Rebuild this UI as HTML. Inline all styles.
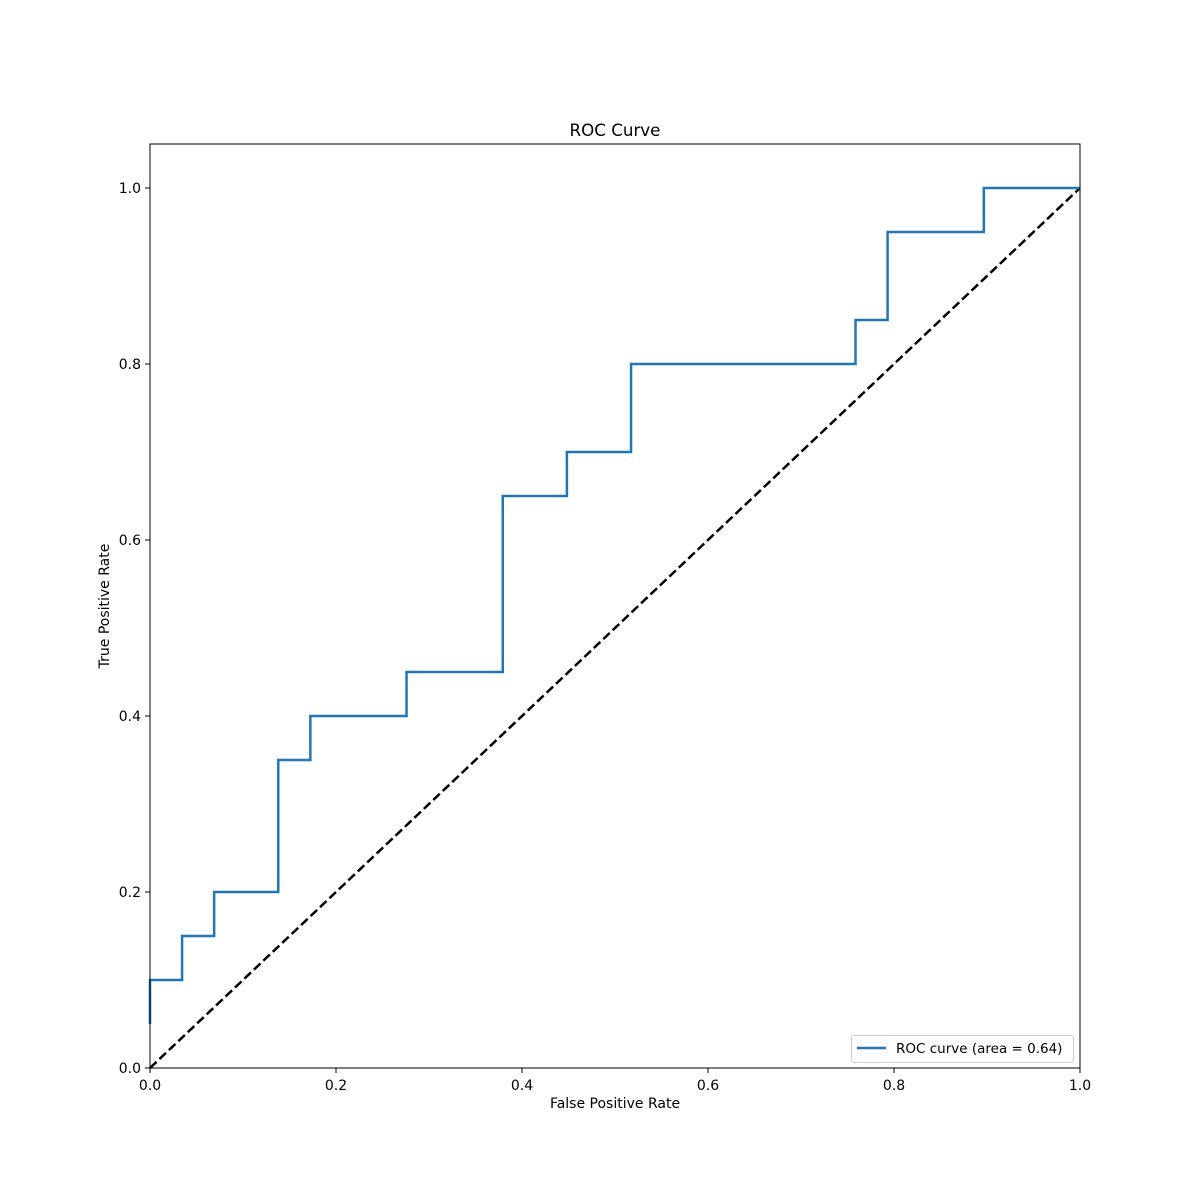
<!DOCTYPE html>
<html><head><meta charset="utf-8"><style>
html,body{margin:0;padding:0;background:#fff;}
svg{display:block;font-family:"DejaVu Sans","Liberation Sans",sans-serif;}
</style></head><body>
<svg id="chart" width="1200" height="1200" viewBox="0 0 1200 1200">
<rect x="0" y="0" width="1200" height="1200" fill="#fff"/>
<g id="plot"></g>
</svg>
<script>
const fpr = [0,0,0,1/29,1/29,2/29,2/29,4/29,4/29,5/29,5/29,8/29,8/29,11/29,11/29,13/29,13/29,15/29,15/29,22/29,22/29,23/29,23/29,26/29,26/29,1];
const tpr = [0.05,0.05,0.1,0.1,0.15,0.15,0.2,0.2,0.35,0.35,0.4,0.4,0.45,0.45,0.65,0.65,0.7,0.7,0.8,0.8,0.85,0.85,0.95,0.95,1,1];
const xTicks = [0,0.2,0.4,0.6,0.8,1.0];
const yTicks = [0,0.2,0.4,0.6,0.8,1.0];
const xTickLabels = ["0.0","0.2","0.4","0.6","0.8","1.0"];
const yTickLabels = ["0.0","0.2","0.4","0.6","0.8","1.0"];

const L=150,R=1080,T=144,B=1068, yMax=1.05;
const sx=v=>L+v*(R-L);
const sy=v=>B-v/yMax*(B-T);
const NS="http://www.w3.org/2000/svg";
const g=document.getElementById('plot');
function mk(tag,attrs,parent){const e=document.createElementNS(NS,tag);for(const k in attrs)e.setAttribute(k,attrs[k]);(parent||g).appendChild(e);return e;}

// diagonal
const diag=mk('line',{x1:sx(0),y1:sy(0),x2:sx(1),y2:sy(1),stroke:'#000','stroke-width':2.5,'stroke-dasharray':'9,4'});



// roc curve
let d='';
for(let i=0;i<fpr.length;i++){d+=(i?'L':'M')+sx(fpr[i])+','+sy(tpr[i]);}
const roc=mk('path',{d:d,fill:'none',stroke:'#1f77b4','stroke-width':2.5});



// frame
const fr=mk('rect',{x:L,y:T,width:R-L,height:B-T,fill:'none',stroke:'#000','stroke-width':1});



// ticks
xTicks.forEach((v,i)=>{
  const t=mk('line',{x1:sx(v),y1:B,x2:sx(v),y2:B+5,stroke:'#000','stroke-width':1});
  
  
  const tx=mk('text',{x:sx(v),y:B+22,'text-anchor':'middle','font-size':14});
  tx.textContent=xTickLabels[i];
  
  
});
yTicks.forEach((v,i)=>{
  const t=mk('line',{x1:L-5,y1:sy(v),x2:L,y2:sy(v),stroke:'#000','stroke-width':1});
  
  
  const tx=mk('text',{x:L-9,y:sy(v)+5,'text-anchor':'end','font-size':14});
  tx.textContent=yTickLabels[i];
  
  
});

// labels
const title=mk('text',{x:(L+R)/2,y:136,'text-anchor':'middle','font-size':16.7});
title.textContent='ROC Curve';


const xl=mk('text',{x:(L+R)/2,y:1108,'text-anchor':'middle','font-size':14});
xl.textContent='False Positive Rate';


const yl=mk('text',{x:0,y:0,'text-anchor':'middle','font-size':14,transform:'translate(109,606) rotate(-90)'});
yl.textContent='True Positive Rate';



// legend
const lg=mk('g',{});


mk('rect',{x:851.5,y:1035.5,width:222,height:27,rx:3,fill:'#fff','fill-opacity':0.8,stroke:'#ccc','stroke-width':1},lg);
const ls=mk('line',{x1:857,y1:1048,x2:886,y2:1048,stroke:'#1f77b4','stroke-width':2.5},lg);


const lt=mk('text',{x:896,y:1053,'font-size':13.5},lg);
lt.textContent='ROC curve (area = 0.64)';


</script>
</body></html>
